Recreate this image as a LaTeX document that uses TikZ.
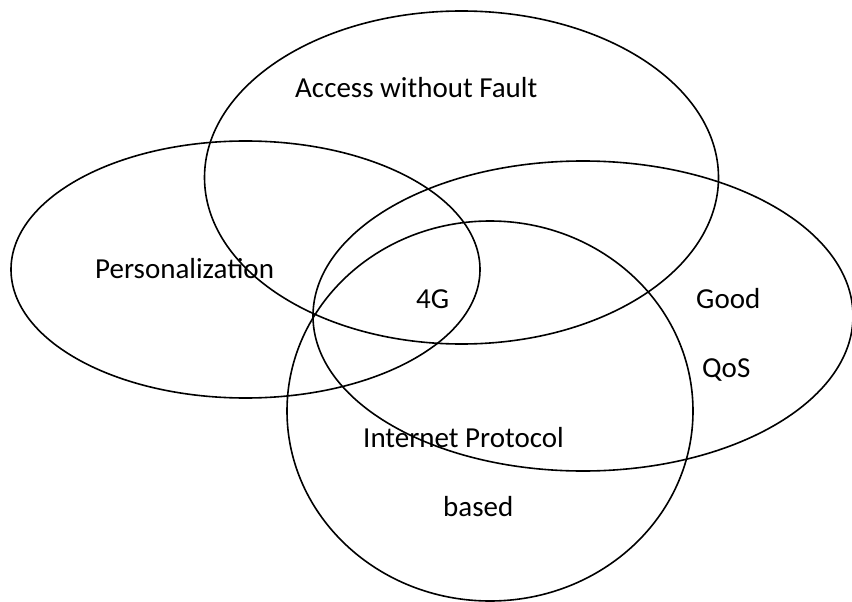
\documentclass[tikz,border=0pt]{standalone}
\usepackage{fontspec}
\setmainfont{Carlito}
\begin{document}
\begin{tikzpicture}[x=1pt,y=-1pt,
  ring/.style={draw=black,line width=1.6pt},
  lbl/.style={inner sep=0pt,font=\fontsize{29pt}{35pt}\selectfont}]
\useasboundingbox (0,0) rectangle (852,602);
\fill[white] (0,0) rectangle (852,602);
% ellipses
\draw[ring] (461.5,177.5) ellipse [x radius=257pt, y radius=166.5pt];
\draw[ring] (245.5,269.5) ellipse [x radius=234.5pt, y radius=128.5pt];
\draw[ring] (583,316) ellipse [x radius=270pt, y radius=155pt];
\draw[ring] (490,411) ellipse [x radius=203pt, y radius=190pt];
% labels
\node[lbl,anchor=base west] (access) at (295,97) {Access without Fault};
\node[lbl,anchor=base west] (pers) at (95,278) {Personalization};
\node[lbl,anchor=base west] (fourg) at (416,308) {4G};
\node[lbl,anchor=base west] (good) at (696,308) {Good};
\node[lbl,anchor=base west] (qos) at (702,377) {QoS};
\node[lbl,anchor=base east] (ip) at (564,447) {Internet Protocol};
\node[lbl,anchor=base west] (based) at (443,516) {based};
\end{tikzpicture}
\end{document}
